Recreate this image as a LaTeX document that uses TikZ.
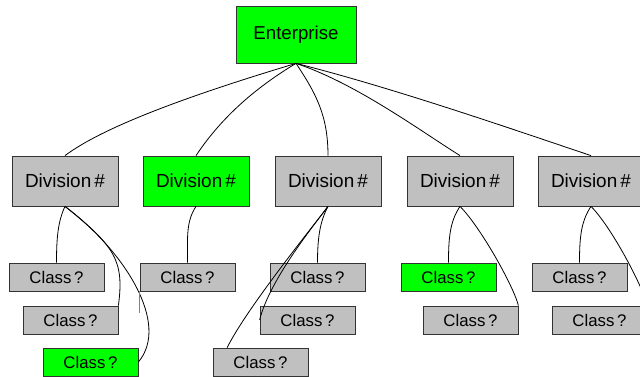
\documentclass[tikz,border=0pt]{standalone}
\usepackage{fontspec}
\setmainfont{Liberation Sans}
\definecolor{boxgray}{RGB}{192,192,192}
\definecolor{boxgreen}{RGB}{0,255,0}

\begin{document}
\begin{tikzpicture}[x=0.75pt,y=-0.75pt,
    box/.style={draw=black!80,line width=0.6pt,inner sep=0pt,fill=boxgray},
    topbox/.style={box,fill=boxgreen,minimum width=90pt,minimum height=42.75pt,font=\fontsize{14}{16}\selectfont},
    divbox/.style={box,minimum width=79.5pt,minimum height=37.5pt,font=\fontsize{14.2}{16}\selectfont},
    classbox/.style={box,minimum width=71.25pt,minimum height=21pt,font=\fontsize{12.6}{14}\selectfont},
    hit/.style={fill=boxgreen},
    link/.style={line width=0.6pt}]
			\clip (0,0) rectangle (640,377);
			% top
			\node[topbox] (ent) at (296,34.5) {Enterprise};
			% divisions
			\node[divbox] (d1) at (65,181) {Division\,\#};
			\node[divbox,hit] (d2) at (196,181) {Division\,\#};
			\node[divbox] (d3) at (328,181) {Division\,\#};
			\node[divbox] (d4) at (460,181) {Division\,\#};
			\node[divbox] (d5) at (591,181) {Division\,\#};
			% classes
			\node[classbox] (c11) at (56.5,277) {Class\,?};
			\node[classbox] (c12) at (70.5,320) {Class\,?};
			\node[classbox,hit] (c13) at (90.5,362) {Class\,?};
			\node[classbox] (c21) at (187.5,277) {Class\,?};
			\node[classbox] (c31) at (317.5,277) {Class\,?};
			\node[classbox] (c32) at (307.5,320) {Class\,?};
			\node[classbox] (c33) at (260.5,362) {Class\,?};
			\node[classbox,hit] (c41) at (448.5,277) {Class\,?};
			\node[classbox] (c42) at (470.5,320) {Class\,?};
			\node[classbox] (c51) at (579.5,277) {Class\,?};
			\node[classbox] (c52) at (599.5,320) {Class\,?};
			% enterprise to divisions
			\draw[link] (ent.south) .. controls +(-100,30) and +(40,-30) .. (d1.north);
			\draw[link] (ent.south) .. controls +(-50,30) and +(20,-30) .. (d2.north);
			\draw[link] (ent.south) .. controls +(20,30) and +(0,-40) .. (d3.north);
			\draw[link] (ent.south) .. controls +(60,20) and +(-40,-25) .. (d4.north);
			\draw[link] (ent.south) .. controls +(100,25) and +(-60,-20) .. (d5.north);
			% divisions to classes
			\draw[link] (d1.south) .. controls +(-7,15) and +(0,-25) .. (c11.north);
			\draw[link] (d1.south) .. controls +(50,40) and +(6,-45) .. (c12.north east);
			\draw[link] (d1.south) .. controls +(60,45) and +(32,-38) .. (c13.east);
			\draw[link] (d2.south) .. controls +(-10,15) and +(0,-25) .. (c21.north);
			\draw[black!50,line width=0.8pt] (c21.south west) -- ++(0,22);
			\draw[link] (d3.south) .. controls +(-8,15) and +(0,-25) .. (c31.north);
			\draw[link] (d3.south) .. controls +(-15,20) and +(10,-40) .. (c32.west);
			\draw[link] (d3.south) .. controls +(-15,20) and +(20,-40) .. ([xshift=-25pt]c33.north);
			\draw[link] (d4.south) .. controls +(-10,15) and +(0,-25) .. (c41.north);
			\draw[link] (d4.south) .. controls +(20,20) and +(-5,-20) .. (c42.north east);
			\draw[link] (d5.south) .. controls +(-10,15) and +(0,-25) .. (c51.north);
			\draw[link] (d5.south) .. controls +(20,20) and +(-5,-20) .. (c52.north east);
		\end{tikzpicture}
\end{document}
